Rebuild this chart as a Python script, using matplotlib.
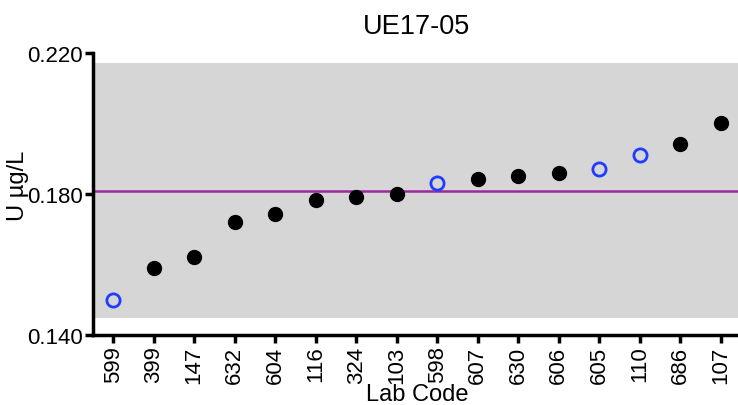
import matplotlib
matplotlib.use("Agg")
import matplotlib.pyplot as plt

plt.rcParams['font.family'] = ['Liberation Sans', 'DejaVu Sans']

title = "UE17-05"
lab_codes = ["599", "399", "147", "632", "604", "116", "324", "103",
             "598", "607", "630", "606", "605", "110", "686", "107"]
results = [0.1500, 0.1589, 0.1620, 0.1719, 0.1742, 0.1782, 0.1790, 0.1800,
           0.1830, 0.1841, 0.1850, 0.1860, 0.1870, 0.1909, 0.1940, 0.2000]
open_marker = [True, False, False, False, False, False, False, False,
               True, False, False, False, True, True, False, False]
assigned_value = 0.1809
acceptance_low = 0.1449
acceptance_high = 0.2170
y_ticks = [0.140, 0.180, 0.220]

fig = plt.figure(figsize=(7.38, 4.06), dpi=100)
ax = fig.add_axes([0.126, 0.1724, 0.878, 0.6958])

n = len(lab_codes)
x = list(range(n))

ax.axhspan(acceptance_low, acceptance_high, color='#d6d6d6', zorder=0, lw=0)
ax.axhline(assigned_value, color='#9b2a9b', lw=1.8, zorder=1)

for xi, yi, hollow in zip(x, results, open_marker):
    if hollow:
        ax.plot(xi, yi, 'o', ms=9.5, mfc='none', mec='#1f3cff', mew=2.0, zorder=3)
    else:
        ax.plot(xi, yi, 'o', ms=10, mfc='black', mec='black', zorder=3)

ax.set_xlim(-0.5, n - 0.5)
ax.set_ylim(0.140, 0.220)
ax.set_yticks(y_ticks)
ax.set_yticklabels([f"{v:.3f}" for v in y_ticks])
ax.set_xticks(x)
ax.set_xticklabels(lab_codes, rotation=90)

for side in ['top', 'right']:
    ax.spines[side].set_visible(False)
for side in ['left', 'bottom']:
    ax.spines[side].set_linewidth(2.5)
ax.tick_params(axis='both', width=2.5, length=5.5, labelsize=16, pad=2)

ax.set_title(title, fontsize=19.5, pad=14)
ax.set_xlabel("Lab Code", fontsize=17, labelpad=0)
ax.set_ylabel("U µg/L", fontsize=17)
ax.yaxis.set_label_coords(-0.098, 0.53)

fig.savefig("out.png", dpi=100)
